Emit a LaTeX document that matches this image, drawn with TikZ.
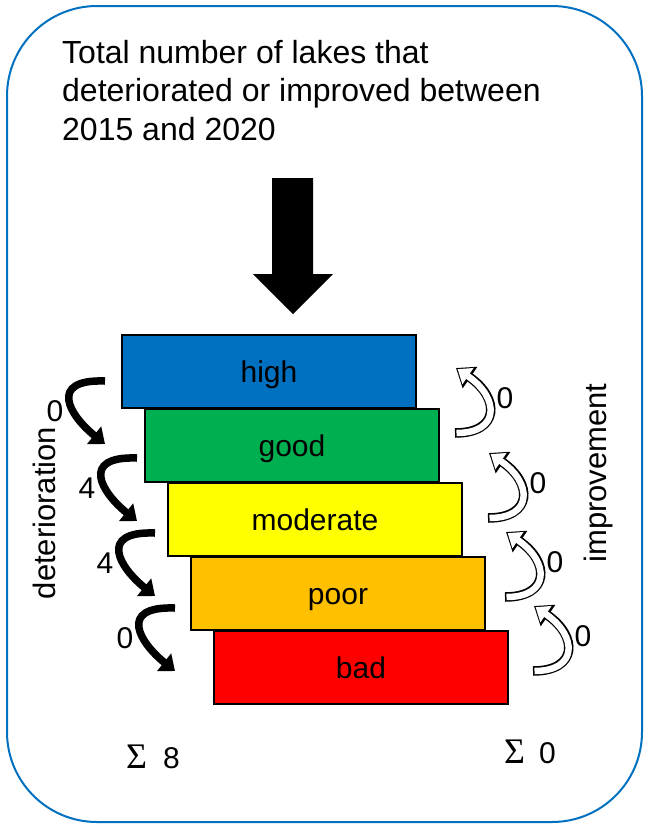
\documentclass[tikz,border=0pt]{standalone}
\usepackage{fontspec}
\setmainfont{Liberation Sans}
\newfontfamily\sigmafont{Liberation Serif}
\usetikzlibrary{arrows.meta}

\definecolor{frameblue}{RGB}{0,112,192}
\definecolor{cHigh}{RGB}{0,112,192}
\definecolor{cGood}{RGB}{0,176,80}
\definecolor{cMod}{RGB}{255,255,0}
\definecolor{cPoor}{RGB}{255,192,0}
\definecolor{cBad}{RGB}{255,0,0}

\tikzset{
  bar/.style={draw=black, line width=1.6pt, minimum width=294pt, minimum height=72.5pt,
    inner sep=0pt, text height=21.5pt, text depth=0pt, font=\fontsize{30}{36}\selectfont},
  num/.style={inner sep=0pt, font=\fontsize{30}{36}\selectfont},
  side/.style={inner sep=0pt, font=\fontsize{31}{37}\selectfont},
  downarc/.style={line width=7.5pt, -{Triangle[length=14pt,width=22pt]}},
  uparc/.style={line width=9.5pt, draw=black, -{Triangle[length=17pt,width=25pt]},
    postaction={draw=white, line width=6.5pt, -{Triangle[length=12.5pt,width=19pt]},
      shorten >=2pt, shorten <=1.5pt}}
}

\begin{document}
\begin{tikzpicture}[x=1pt, y=-1pt]
  \useasboundingbox (0,0) rectangle (648,825);
  \draw[frameblue, line width=2pt, rounded corners=90pt] (7,6) rectangle (642,822);

  \node[anchor=north west, inner sep=0pt, align=left, font=\fontsize{32}{38.4}\selectfont] (title) at (62,40)
    {Total number of lakes that\\deteriorated or improved between\\2015 and 2020};

  % big arrow
  \fill[black] (272,178) -- (313,178) -- (313,274) -- (333,274) -- (293,314)
    -- (253,274) -- (272,274) -- cycle;

  % status levels
  \foreach \lab/\col [count=\i from 0] in {high/cHigh, good/cGood, moderate/cMod, poor/cPoor, bad/cBad}
    \node[bar, fill=\col] (b\i) at ({269+23*\i},{371.5+74*\i}) {\lab};

  % deterioration arrows
  \foreach \x/\y/\n [count=\i] in {105/381/0, 137/458/4, 155/533/4, 175/608/0} {
    \draw[downarc] (\x,\y) .. controls ({\x-58},{\y-2}) and ({\x-35},{\y+35}) .. ({\x},{\y+63});
    \node[num] (dn\i) at ({\x-50},{\y+30}) {\n};
  }

  % improvement arrows
  \foreach \x/\y [count=\i] in {455/433, 488/518, 505/597, 533/671} {
    \draw[uparc] (\x,\y) .. controls ({\x+45},{\y}) and ({\x+45},{\y-35}) .. ({\x+1},{\y-65});
    \node[num] (up\i) at ({\x+50},{\y-35}) {0};
  }

  \node[side, rotate=90] (det) at (44,513) {deterioration};
  \node[side, rotate=90] (imp) at (598,473) {improvement};

  \node[num, anchor=west] (sumL) at (126,757) {{\sigmafont\fontsize{36}{40}\selectfont Σ}\hspace{16pt}8};
  \node[num, anchor=west] (sumR) at (504,752) {{\sigmafont\fontsize{36}{40}\selectfont Σ}\hspace{14pt}0};
\end{tikzpicture}
\end{document}
